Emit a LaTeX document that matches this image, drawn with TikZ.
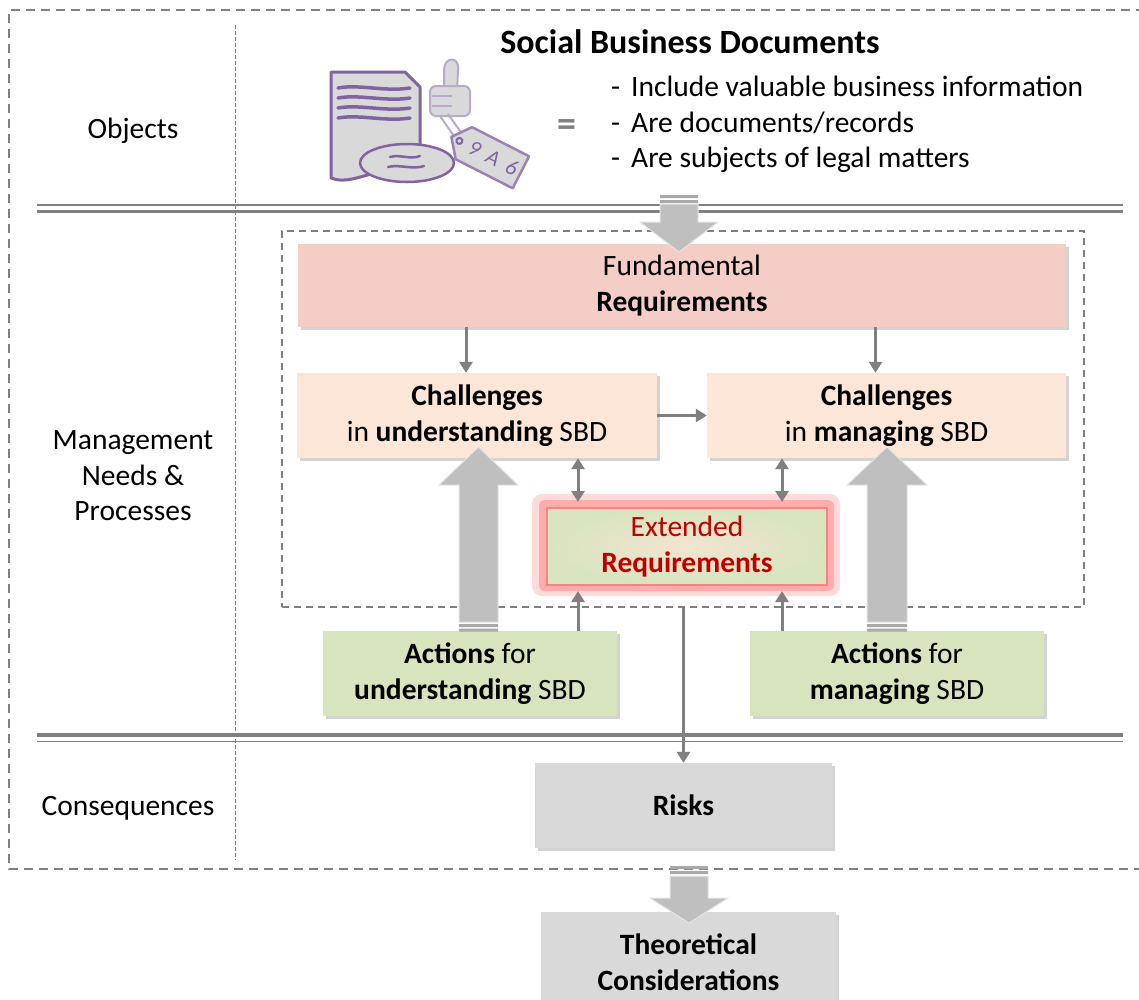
\documentclass[tikz,border=0pt]{standalone}
\usepackage{fontspec}
\setmainfont{Carlito}
\usetikzlibrary{arrows.meta,shadows,calc}
\definecolor{linegray}{HTML}{808080}
\definecolor{arrowfill}{HTML}{BFBFBF}
\definecolor{arrowbar}{HTML}{A9A9A9}
\definecolor{fundpink}{HTML}{F5CDC7}
\definecolor{peach}{HTML}{FCE6D8}
\definecolor{actgreen}{HTML}{D8E4BE}
\definecolor{extcenter}{HTML}{F3E4D2}
\definecolor{riskgray}{HTML}{D9D9D9}
\definecolor{extred}{HTML}{C00000}
\definecolor{iconpurple}{HTML}{8064A2}
\tikzset{
  sbox/.style={inner sep=0pt, align=center,
    drop shadow={shadow xshift=2.5pt, shadow yshift=-3pt, opacity=0.35}},
  conn/.style={draw=linegray, line width=3pt, -{Triangle[length=11pt,width=13pt]}},
  dconn/.style={draw=linegray, line width=3pt,
    {Triangle[length=11pt,width=13pt]}-{Triangle[length=11pt,width=13pt]}},
  framedash/.style={draw=linegray, line width=2pt, dash pattern=on 9pt off 6pt},
  blockarrow/.style={fill=arrowfill, draw=white!60!arrowfill, line width=1pt},
  iconedge/.style={draw=iconpurple, line width=3pt, line join=round},
  iconsoft/.style={draw=iconpurple!55, line width=2pt, line join=round},
  tagglyph/.style={transform shape, text=iconpurple, inner sep=0pt,
    font=\fontsize{22}{22}\selectfont\itshape},
}
\begin{document}
\begin{tikzpicture}[x=1pt,y=-1pt,font=\fontsize{29.5}{35.5}\selectfont]
\useasboundingbox (0,0) rectangle (1139,999);
\clip (0,0) rectangle (1139,999);

% outer frame and column divider
\draw[framedash] (1145,10) -- (9,10) -- (9,869) -- (1145,869);
\draw[linegray, line width=0.8pt, dash pattern=on 4pt off 2pt] (235,25) -- (235,860);

% section separators
\draw[linegray, line width=1.8pt] (37,205) -- (1123,205);
\draw[linegray, line width=3.5pt] (37,211.5) -- (1123,211.5);
\draw[linegray, line width=3.5pt] (37,735) -- (1123,735);
\draw[linegray, line width=1.8pt] (37,741.5) -- (1123,741.5);

% row labels
\node (lobj) at (133,131) {Objects};
\node[align=center] (lmgmt) at (133,476) {Management\\Needs \&\\Processes};
\node (lcons) at (128,808) {Consequences};

% header
\node[font=\bfseries\fontsize{34}{38}\selectfont] (title) at (690,42) {Social Business Documents};
\node[text=linegray, font=\bfseries\fontsize{38}{38}\selectfont] (eq) at (567,128) {=};
\node[anchor=west, align=left, inner sep=0pt] (bul) at (611,124.5)
  {\makebox[20pt][l]{-}Include valuable business information\\
   \makebox[20pt][l]{-}Are documents/records\\
   \makebox[20pt][l]{-}Are subjects of legal matters};

% document icon
\filldraw[fill=riskgray, iconedge] (331,72) -- (405,72) -- (420,87) -- (420,160)
  -- (380,172) .. controls (360,176) and (345,184) .. (331,178) -- cycle;
\foreach \yy in {88,98,108,118}
  \draw[iconpurple, line width=3.5pt, line cap=round]
    (338,\yy) .. controls (360,\yy-4) and (385,\yy+4) .. (410,\yy);
% thumb
\filldraw[fill=riskgray, iconsoft] (444,92) -- (444,70) .. controls (444,56) and (460,56) .. (458,70) -- (457,92) -- cycle;
\filldraw[fill=riskgray, iconsoft, rounded corners=6pt] (430,86) rectangle (470,116);
\draw[iconsoft] (432,96) -- (452,96) (432,106) -- (452,106);
% string
\draw[iconsoft] (440,116) -- (458,142) (448,114) -- (465,138);
% tag
\begin{scope}[shift={(487,155)}, rotate=-27]
  \filldraw[fill=riskgray, draw=iconpurple!80, line width=2.5pt, line join=round]
    (-26,-18) -- (38,-18) -- (38,18) -- (-26,18) -- (-40,0) -- cycle;
  \draw[iconpurple, line width=2pt] (-31,0) circle (3);
  \node[tagglyph] (tag9) at (-14,0) {9};
  \node[tagglyph] (tagA) at (7,0) {A};
  \node[tagglyph] (tag6) at (28,0) {6};
\end{scope}
% plate
\filldraw[fill=riskgray, draw=iconpurple, line width=2.5pt] (407,163) ellipse [x radius=47, y radius=19];
\draw[iconpurple, line width=2.5pt, line cap=round]
  (390,157) .. controls (400,154) and (410,160) .. (420,156)
  (388,167) .. controls (400,164) and (412,170) .. (424,166);

% management area
\node[framedash, line width=1.5pt, dash pattern=on 7pt off 5pt, inner sep=0pt,
      minimum width=802pt, minimum height=376pt] (mgmt) at (683,419) {};

\node[sbox, fill=fundpink, minimum width=768pt, minimum height=83pt] (fund) at (682,285.5)
  {Fundamental\\\textbf{Requirements}};
\node[sbox, fill=peach, minimum width=360pt, minimum height=85pt] (chU) at (477,415.5)
  {\textbf{Challenges}\\in \textbf{understanding} SBD};
\node[sbox, fill=peach, minimum width=359pt, minimum height=85pt] (chM) at (886.5,415.5)
  {\textbf{Challenges}\\in \textbf{managing} SBD};

% glowing extended requirements box
\fill[red!80!white, opacity=0.18, rounded corners=10pt] (532,494) rectangle (840,596);
\fill[red!75!white, opacity=0.3, rounded corners=6pt] (539,500) rectangle (834,591);
\node[shade, inner color=extcenter, outer color=actgreen, draw=red!50!white, line width=1.5pt,
      inner sep=0pt, outer sep=6pt, align=center, text=extred,
      minimum width=280pt, minimum height=77pt] (ext) at (687,546.5)
  {Extended\\\textbf{Requirements}};

\node[sbox, fill=actgreen, minimum width=294pt, minimum height=85pt] (actU) at (470,673.5)
  {\textbf{Actions} for\\\textbf{understanding} SBD};
\node[sbox, fill=actgreen, minimum width=294pt, minimum height=85pt] (actM) at (897,673.5)
  {\textbf{Actions} for\\\textbf{managing} SBD};

\node[sbox, fill=riskgray, minimum width=297pt, minimum height=85pt] (risks) at (683.5,805.5)
  {\textbf{Risks}};
\node[sbox, fill=riskgray, minimum width=295pt, minimum height=100pt] (theo) at (688.5,962)
  {\textbf{Theoretical}\\\textbf{Considerations}};

% connectors
\draw[conn] ($(chU.north |- fund.south)+(-11,0)$) -- ($(chU.north)+(-11,0)$);
\draw[conn] ($(chM.north |- fund.south)+(-11,0)$) -- ($(chM.north)+(-11,0)$);
\draw[conn] (chU.east) -- (chM.west);
\coordinate (dA) at ($(chU.south)+(101,0)$);
\coordinate (dB) at ($(chM.south)+(-104.5,0)$);
\draw[dconn] (dA) -- (dA |- ext.north);
\draw[dconn] (dB) -- (dB |- ext.north);
\draw[conn] (dA |- actU.north) -- (dA |- ext.south);
\draw[conn] (dB |- actM.north) -- (dB |- ext.south);
\draw[conn] (mgmt.south -| risks.north) -- (risks.north);

% block arrows
\fill[arrowbar] (660,195) rectangle (698,198) (660,200) rectangle (698,203);
\draw[blockarrow] (660,204) -- (698,204) -- (698,222) -- (718,222) -- (679,252)
  -- (640,222) -- (660,222) -- cycle;

\fill[arrowbar] (459,624) rectangle (498,627) (459,628.5) rectangle (498,631.5);
\draw[blockarrow] (459,622) -- (459,485) -- (439,485) -- (478.5,447) -- (518,485)
  -- (498,485) -- (498,622) -- cycle;

\fill[arrowbar] (867,624) rectangle (907,627) (867,628.5) rectangle (907,631.5);
\draw[blockarrow] (867,622) -- (867,485) -- (847,485) -- (887,447) -- (927,485)
  -- (907,485) -- (907,622) -- cycle;

\fill[arrowbar] (670,866) rectangle (708,869) (670,871) rectangle (708,874);
\draw[blockarrow] (670,876) -- (708,876) -- (708,898) -- (728,898) -- (689,923)
  -- (650,898) -- (670,898) -- cycle;
\end{tikzpicture}
\end{document}
